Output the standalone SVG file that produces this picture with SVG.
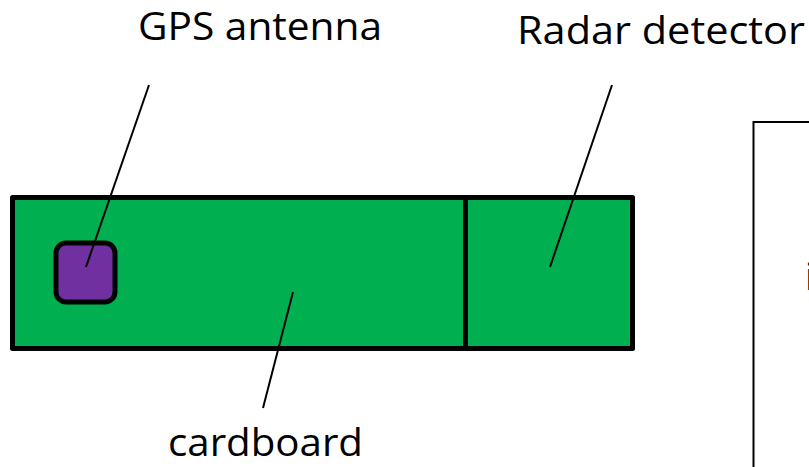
<svg xmlns="http://www.w3.org/2000/svg" width="809" height="467" viewBox="0 0 809 467">
<style>
.lbl{font-family:"Open Sans","Liberation Sans",sans-serif;font-size:38px;fill:#000}
.lead{stroke:#000;stroke-width:2;fill:none}
.thick{stroke:#000;stroke-width:5}
</style>
<rect width="809" height="467" fill="#fff"/>
<g id="right-box">
<rect x="753.5" y="122" width="100" height="400" fill="#fff" stroke="#000" stroke-width="2"/>
<text class="lbl" x="805" y="290">i</text>
</g>
<g id="cardboard">
<rect x="12.5" y="197.5" width="620" height="151" fill="#00B050" class="thick" stroke-linejoin="round"/>
</g>
<g id="radar-detector">
<line x1="465.5" y1="197.5" x2="465.5" y2="348.5" class="thick"/>
</g>
<g id="gps-antenna">
<rect x="56" y="243" width="59" height="59" rx="10" fill="#7030A0" class="thick"/>
</g>
<g id="connectors">
<line class="lead" x1="149" y1="85" x2="86" y2="267"/>
<line class="lead" x1="612" y1="85" x2="550" y2="267"/>
<line class="lead" x1="293" y1="292" x2="263" y2="408"/>
</g>
<g id="labels">
<text class="lbl" x="138" y="40" textLength="244" lengthAdjust="spacingAndGlyphs">GPS antenna</text>
<text class="lbl" x="517" y="44" textLength="288" lengthAdjust="spacingAndGlyphs">Radar detector</text>
<text class="lbl" x="168" y="456" textLength="195" lengthAdjust="spacingAndGlyphs">cardboard</text>
</g>
</svg>
